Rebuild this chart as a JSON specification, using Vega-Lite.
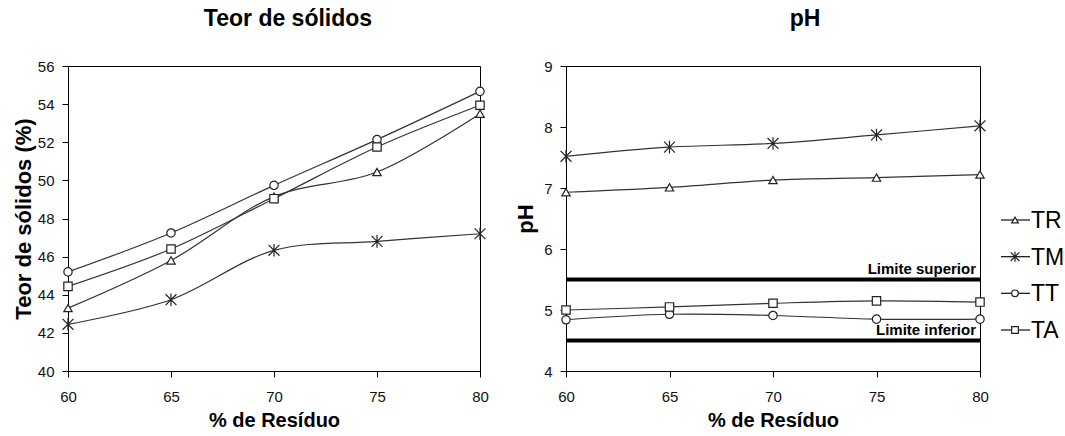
{
  "$schema": "https://vega.github.io/schema/vega-lite/v6.json",
  "background": "white",
  "padding": {"left": 11, "top": 7, "right": 0, "bottom": 0},
  "bounds": "flush",
  "spacing": 86,
  "datasets": {
    "solidos": [
      {"serie": "TR", "residuo": 60, "valor": 43.3},
      {"serie": "TR", "residuo": 65, "valor": 45.8},
      {"serie": "TR", "residuo": 70, "valor": 49.15},
      {"serie": "TR", "residuo": 75, "valor": 50.44},
      {"serie": "TR", "residuo": 80, "valor": 53.5},
      {"serie": "TM", "residuo": 60, "valor": 42.45},
      {"serie": "TM", "residuo": 65, "valor": 43.74},
      {"serie": "TM", "residuo": 70, "valor": 46.33},
      {"serie": "TM", "residuo": 75, "valor": 46.8},
      {"serie": "TM", "residuo": 80, "valor": 47.2},
      {"serie": "TT", "residuo": 60, "valor": 45.2},
      {"serie": "TT", "residuo": 65, "valor": 47.24},
      {"serie": "TT", "residuo": 70, "valor": 49.74},
      {"serie": "TT", "residuo": 75, "valor": 52.14},
      {"serie": "TT", "residuo": 80, "valor": 54.67},
      {"serie": "TA", "residuo": 60, "valor": 44.44},
      {"serie": "TA", "residuo": 65, "valor": 46.4},
      {"serie": "TA", "residuo": 70, "valor": 49.04},
      {"serie": "TA", "residuo": 75, "valor": 51.75},
      {"serie": "TA", "residuo": 80, "valor": 53.94}
    ],
    "ph": [
      {"serie": "TR", "residuo": 60, "valor": 6.93},
      {"serie": "TR", "residuo": 65, "valor": 7.01},
      {"serie": "TR", "residuo": 70, "valor": 7.13},
      {"serie": "TR", "residuo": 75, "valor": 7.17},
      {"serie": "TR", "residuo": 80, "valor": 7.22},
      {"serie": "TM", "residuo": 60, "valor": 7.52},
      {"serie": "TM", "residuo": 65, "valor": 7.67},
      {"serie": "TM", "residuo": 70, "valor": 7.73},
      {"serie": "TM", "residuo": 75, "valor": 7.87},
      {"serie": "TM", "residuo": 80, "valor": 8.02},
      {"serie": "TT", "residuo": 60, "valor": 4.84},
      {"serie": "TT", "residuo": 65, "valor": 4.93},
      {"serie": "TT", "residuo": 70, "valor": 4.91},
      {"serie": "TT", "residuo": 75, "valor": 4.85},
      {"serie": "TT", "residuo": 80, "valor": 4.85},
      {"serie": "TA", "residuo": 60, "valor": 5.0},
      {"serie": "TA", "residuo": 65, "valor": 5.05},
      {"serie": "TA", "residuo": 70, "valor": 5.11},
      {"serie": "TA", "residuo": 75, "valor": 5.15},
      {"serie": "TA", "residuo": 80, "valor": 5.13}
    ],
    "limites": [
      {"limite": "Limite superior", "valor": 5.5},
      {"limite": "Limite inferior", "valor": 4.5}
    ],
    "legenda": [
      {"serie": "TR"},
      {"serie": "TM"},
      {"serie": "TT"},
      {"serie": "TA"}
    ]
  },
  "config": {
    "view": {"stroke": "black", "strokeWidth": 1},
    "axis": {
      "grid": false,
      "domainColor": "black",
      "tickColor": "black",
      "tickSize": 6,
      "labelFont": "Liberation Sans",
      "labelFontSize": 15,
      "labelColor": "#111",
      "labelFlush": false,
      "titleFont": "Liberation Sans",
      "titleFontWeight": "bold",
      "titleColor": "black"
    },
    "title": {"font": "Liberation Sans", "fontWeight": "bold", "fontSize": 23, "color": "black"}
  },
  "hconcat": [
    {
      "width": 412,
      "height": 305,
      "title": {"text": "Teor de sólidos", "offset": 28, "dx": 14},
      "data": {"name": "solidos"},
      "encoding": {
        "x": {"field": "residuo", "type": "quantitative", "scale": {"domain": [60, 80], "nice": false, "zero": false},
              "axis": {"values": [60, 65, 70, 75, 80], "title": "% de Resíduo", "titleFontSize": 20, "labelPadding": 12, "titlePadding": 6}},
        "y": {"field": "valor", "type": "quantitative", "scale": {"domain": [40, 56], "nice": false, "zero": false},
              "axis": {"values": [40, 42, 44, 46, 48, 50, 52, 54, 56], "title": "Teor de sólidos (%)", "titleFontSize": 22, "labelPadding": 8, "titlePadding": 2}}
      },
      "layer": [
        {"mark": {"type": "line", "interpolate": "catmull-rom", "color": "#333", "strokeWidth": 1.2},
         "encoding": {"detail": {"field": "serie"}}},
        {"mark": {"type": "point", "filled": true, "fill": "white", "stroke": "#222", "strokeWidth": 1.2, "size": 70, "opacity": 1},
         "encoding": {"shape": {"field": "serie", "type": "nominal",
           "scale": {"domain": ["TR", "TM", "TT", "TA"], "range": ["triangle-up", "M-1.3,-1.3L1.3,1.3M-1.3,1.3L1.3,-1.3M0,-1.5L0,1.5", "circle", "square"]},
           "legend": null}}}
      ]
    },
    {
      "spacing": 20,
      "bounds": "flush",
      "hconcat": [
        {
          "width": 414,
          "height": 305,
          "title": {"text": "pH", "offset": 28, "dx": 32},
          "layer": [
            {
              "data": {"name": "ph"},
              "encoding": {
                "x": {"field": "residuo", "type": "quantitative", "scale": {"domain": [60, 80], "nice": false, "zero": false},
                      "axis": {"values": [60, 65, 70, 75, 80], "title": "% de Resíduo", "titleFontSize": 20, "labelPadding": 12, "titlePadding": 6}},
                "y": {"field": "valor", "type": "quantitative", "scale": {"domain": [4, 9], "nice": false, "zero": false},
                      "axis": {"values": [4, 5, 6, 7, 8, 9], "format": "d", "title": "pH", "titleFontSize": 22, "labelPadding": 8, "titlePadding": 6}}
              },
              "layer": [
                {"mark": {"type": "line", "interpolate": "catmull-rom", "color": "#333", "strokeWidth": 1.2},
                 "encoding": {"detail": {"field": "serie"}}},
                {"mark": {"type": "point", "filled": true, "fill": "white", "stroke": "#222", "strokeWidth": 1.2, "size": 70, "opacity": 1},
                 "encoding": {"shape": {"field": "serie", "type": "nominal", "legend": null}}}
              ]
            },
            {
              "data": {"name": "limites"},
              "layer": [
                {"mark": {"type": "rule", "color": "black", "strokeWidth": 4},
                 "encoding": {"y": {"field": "valor", "type": "quantitative"}}},
                {"mark": {"type": "text", "font": "Liberation Sans", "fontWeight": "bold", "fontSize": 15, "align": "right", "baseline": "alphabetic", "dx": -4, "dy": -6, "color": "black"},
                 "encoding": {"y": {"field": "valor", "type": "quantitative"}, "x": {"datum": 80}, "text": {"field": "limite"}}}
              ]
            }
          ]
        },
        {
          "width": 62,
          "height": 305,
          "view": {"stroke": null},
          "data": {"name": "legenda"},
          "encoding": {
            "y": {"field": "serie", "type": "nominal", "scale": {"type": "point", "padding": 0, "domain": ["TR", "TM", "TT", "TA"], "range": [154, 264]}, "axis": null}
          },
          "layer": [
            {"mark": {"type": "rule", "color": "#222", "strokeWidth": 1.3},
             "encoding": {"x": {"datum": 1, "scale": {"domain": [0, 62], "nice": false, "zero": false}, "axis": null}, "x2": {"datum": 30}}},
            {"mark": {"type": "point", "filled": true, "fill": "white", "stroke": "#222", "strokeWidth": 1.2, "size": 45, "opacity": 1},
             "encoding": {"x": {"datum": 15}, "shape": {"field": "serie", "type": "nominal", "legend": null}}},
            {"mark": {"type": "text", "font": "Liberation Sans", "fontSize": 23, "align": "left", "baseline": "middle", "color": "black", "dy": 1},
             "encoding": {"x": {"datum": 31}, "text": {"field": "serie"}}}
          ]
        }
      ]
    }
  ]
}
